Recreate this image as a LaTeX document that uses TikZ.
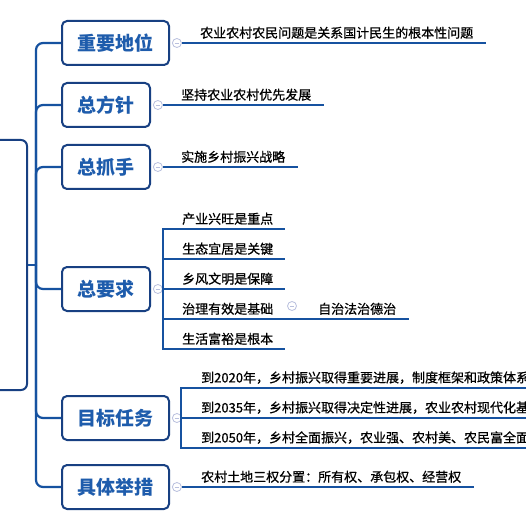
\documentclass[tikz,border=0pt]{standalone}
\usepackage{fontspec}
\setmainfont{Noto Sans CJK SC}
\newfontfamily\leaffont{Noto Sans CJK SC}[FakeBold=0.7]
\usetikzlibrary{positioning}
\definecolor{mapline}{RGB}{22,82,160}
\definecolor{mapframe}{RGB}{24,64,130}
\definecolor{maptext}{RGB}{30,92,172}
\definecolor{foldgray}{RGB}{185,192,222}

\begin{document}
\begin{tikzpicture}[
    x=1pt, y=-1pt,
    every node/.style={font=\fontsize{13}{15}\selectfont\leaffont},
    topicbox/.style={rectangle, draw=mapframe, line width=2pt, rounded corners=5pt, fill=white,
                     inner xsep=15.5pt, minimum height=44pt, anchor=west, text=maptext,
                     font=\fontsize{19}{22}\selectfont\bfseries},
    leaf/.style={anchor=south west, inner xsep=13pt, inner ysep=4pt},
    fold/.style={circle, draw=foldgray, fill=white, line width=0.8pt, minimum size=9pt, inner sep=0pt,
                 path picture={\draw[foldgray, line width=0.8pt]
                   ([xshift=-2.2pt]path picture bounding box.center) -- ([xshift=2.2pt]path picture bounding box.center);}},
    link/.style={draw=mapline, line width=2.2pt}
]
\useasboundingbox (0,0) rectangle (526,526);
\clip (0,0) rectangle (526,526);
\fill[white] (0,0) rectangle (526,526);

% root and trunk
\node[draw=mapframe, line width=2pt, rounded corners=6pt, minimum width=60pt, minimum height=250pt] (root) at (-3,265) {};
\coordinate (hub) at (36,265);
\draw[link] (root.east) -- (hub);

\node[topicbox] (pos) at (61,43) {重要地位};
\node[topicbox] (guide) at (61,105) {总方针};
\node[topicbox] (grip) at (61,167) {总抓手};
\node[topicbox] (req) at (61,289) {总要求};
\node[topicbox] (goal) at (61,418) {目标任务};
\node[topicbox] (act) at (61,487) {具体举措};
\foreach \b in {pos,guide,grip,req,goal,act}
    \draw[link, rounded corners=7pt] (hub) |- (\b.west);

% single leaves
\node[fold, right=2pt of pos] (posf) {};
\node[leaf] (posl) at (187,43) {农业农村农民问题是关系国计民生的根本性问题};
\draw[link] (posf) -- (posl.south east);

\node[fold, right=2pt of guide] (guidef) {};
\node[leaf] (guidel) at (168,105) {坚持农业农村优先发展};
\draw[link] (guidef) -- (guidel.south east);

\node[fold, right=2pt of grip] (gripf) {};
\node[leaf] (gripl) at (168,167) {实施乡村振兴战略};
\draw[link] (gripf) -- (gripl.south east);

% requirements
\node[fold, right=2pt of req] (reqf) {};
\coordinate (reqk) at (163,289);
\draw[link] (reqf) -- (reqk);
\node[leaf, inner xsep=12pt] (r1) at (170,229) {产业兴旺是重点};
\node[leaf, inner xsep=12pt] (r2) at (170,259) {生态宜居是关键};
\node[leaf, inner xsep=12pt] (r3) at (170,289) {乡风文明是保障};
\node[leaf, inner xsep=12pt] (r4) at (170,319) {治理有效是基础};
\node[leaf, inner xsep=12pt] (r5) at (170,349) {生活富裕是根本};
\node[fold] (r4f) at (292,306) {};
\node[leaf] (s1) at (305,319) {自治法治德治};
\foreach \r in {r1,r2,r3,r5}
    \draw[link] (reqk) |- (\r.south east);
\draw[link] (reqk) |- (s1.south east);

% goals
\node[fold, right=2pt of goal] (goalf) {};
\coordinate (goalk) at (181,418);
\draw[link] (goalf) -- (goalk);
\node[leaf] (g1) at (188,388) {到2020年，乡村振兴取得重要进展，制度框架和政策体系};
\node[leaf] (g2) at (188,418) {到2035年，乡村振兴取得决定性进展，农业农村现代化基};
\node[leaf] (g3) at (188,448) {到2050年，乡村全面振兴，农业强、农村美、农民富全面};
\foreach \g in {g1,g2,g3}
    \draw[link] (goalk) |- (\g.south east);

% measures
\node[fold, right=2pt of act] (actf) {};
\node[leaf] (actl) at (188,487) {农村土地三权分置：所有权、承包权、经营权};
\draw[link] (actf) -- (actl.south east);
\end{tikzpicture}
\end{document}
